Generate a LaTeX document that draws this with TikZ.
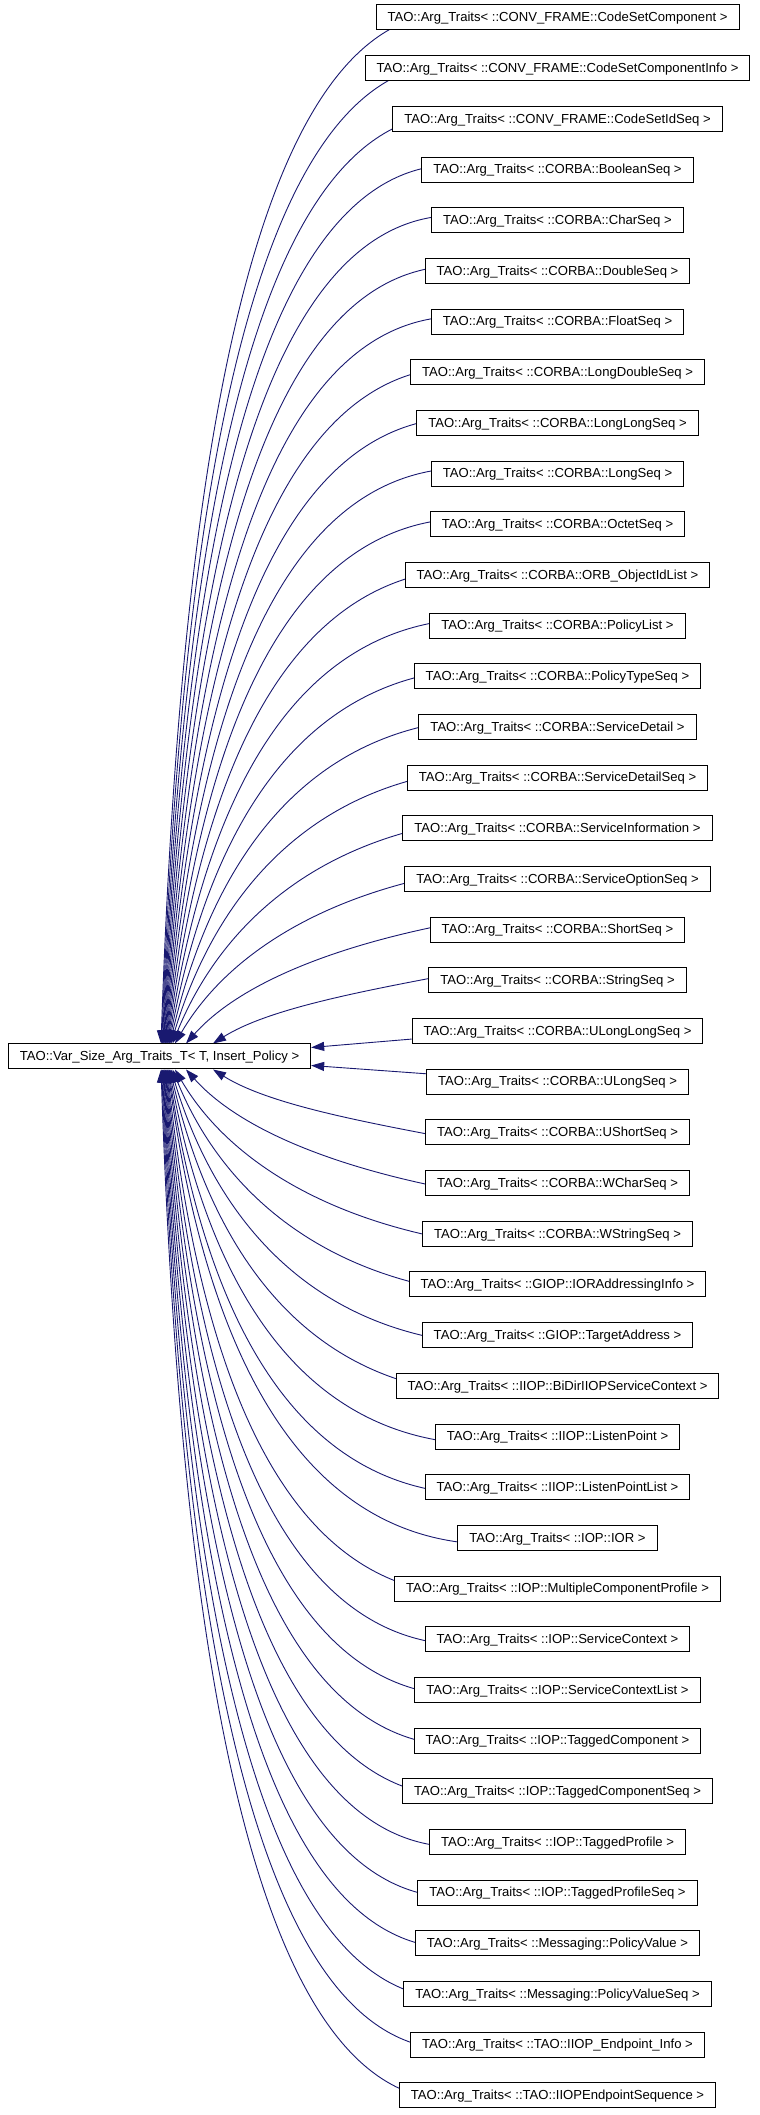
\documentclass[tikz,border=0pt]{standalone}
\usepackage{fontspec}
\setmainfont{Liberation Sans}
\usetikzlibrary{calc,arrows.meta}
\definecolor{edgeblue}{HTML}{191970}
\pgfdeclarelayer{bg}
\pgfsetlayers{bg,main}
\begin{document}
\begin{tikzpicture}[x=1pt,y=1pt,
  box/.style={draw=black,line width=1pt,fill=white,inner xsep=11.5pt,inner ysep=0pt,
    minimum height=25pt,text height=9.4pt,text depth=1pt,font=\fontsize{13.1}{15}\selectfont},
  edge/.style={draw=edgeblue,line width=0.9pt,-{Triangle[length=13pt,width=9pt]}}]
\useasboundingbox (0,0) rectangle (760,2115);
\node[box] (base) at (159.5,1058.5) {TAO::Var\_Size\_Arg\_Traits\_T< T, Insert\_Policy >};
\foreach \nm [count=\i from 0] in {
  CONV\_FRAME::CodeSetComponent,
  CONV\_FRAME::CodeSetComponentInfo,
  CONV\_FRAME::CodeSetIdSeq,
  CORBA::BooleanSeq,
  CORBA::CharSeq,
  CORBA::DoubleSeq,
  CORBA::FloatSeq,
  CORBA::LongDoubleSeq,
  CORBA::LongLongSeq,
  CORBA::LongSeq,
  CORBA::OctetSeq,
  CORBA::ORB\_ObjectIdList,
  CORBA::PolicyList,
  CORBA::PolicyTypeSeq,
  CORBA::ServiceDetail,
  CORBA::ServiceDetailSeq,
  CORBA::ServiceInformation,
  CORBA::ServiceOptionSeq,
  CORBA::ShortSeq,
  CORBA::StringSeq,
  CORBA::ULongLongSeq,
  CORBA::ULongSeq,
  CORBA::UShortSeq,
  CORBA::WCharSeq,
  CORBA::WStringSeq,
  GIOP::IORAddressingInfo,
  GIOP::TargetAddress,
  IIOP::BiDirIIOPServiceContext,
  IIOP::ListenPoint,
  IIOP::ListenPointList,
  IOP::IOR,
  IOP::MultipleComponentProfile,
  IOP::ServiceContext,
  IOP::ServiceContextList,
  IOP::TaggedComponent,
  IOP::TaggedComponentSeq,
  IOP::TaggedProfile,
  IOP::TaggedProfileSeq,
  Messaging::PolicyValue,
  Messaging::PolicyValueSeq,
  TAO::IIOP\_Endpoint\_Info,
  TAO::IIOPEndpointSequence} {
  \node[box] (c\i) at (557.5,{2097.5-50.68*\i}) {TAO::Arg\_Traits< ::\nm{} >};
}
\begin{pgfonlayer}{bg}
\foreach \k in {0,...,19} {
  \pgfmathsetmacro\xe{{161,161.7,162.4,163,163.6,164.2,164.8,165.4,166,166.6,167.2,167.8,168.5,169.2,170,171,172.5,175,186,213}[\k]}
  \pgfmathsetmacro\dyy{1026-50.68*\k}
  \pgfmathsetmacro\ff{(440-\xe)/((440-\xe)+\dyy)}
  \pgfmathsetmacro\aa{0.85-0.6*\ff}
  \pgfmathsetmacro\bb{0.4*\ff*\ff}
  \pgfmathsetmacro\cc{0.3*\ff}
  \pgfmathtruncatemacro\j{41-\k}
  \draw[edge] let \p1=(c\k.west), \n3={max(\x1,440pt)}, \p2=($(base.north)+(\xe-159.5,0)$),
      \n1={\n3-\x2}, \n2={\y1+4pt-\y2} in
    (\n3,\y1+4pt) .. controls (\n3-\aa*\n1,\y1+4pt-\bb*\n2) and (\x2+\cc*\n1,\y2+0.5*\n2) .. (\p2);
  \draw[edge] let \p1=(c\j.west), \n3={max(\x1,440pt)}, \p2=($(base.south)+(\xe-159.5,0)$),
      \n1={\n3-\x2}, \n2={\y2-\y1+4pt} in
    (\n3,\y1-4pt) .. controls (\n3-\aa*\n1,\y1-4pt+\bb*\n2) and (\x2+\cc*\n1,\y2-0.5*\n2) .. (\p2);
}
\draw[edge] ($(c20.west)+(0,-8)$) -- ($(base.east)+(0,9)$);
\draw[edge] ($(c21.west)+(0,8)$) -- ($(base.east)+(0,-9)$);
\end{pgfonlayer}
\end{tikzpicture}
\end{document}
